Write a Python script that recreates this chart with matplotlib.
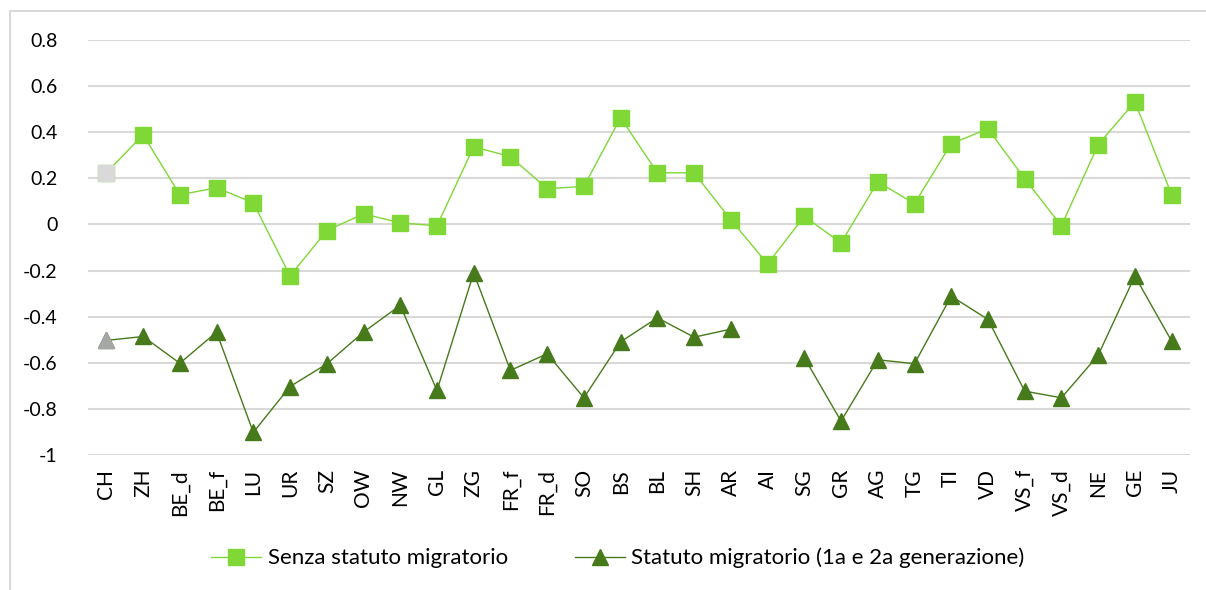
import numpy as np
import matplotlib.pyplot as plt
from matplotlib.lines import Line2D

# cantoni
cantoni = ["CH", "ZH", "BE_d", "BE_f", "LU", "UR", "SZ", "OW", "NW", "GL", "ZG",
           "FR_f", "FR_d", "SO", "BS", "BL", "SH", "AR", "AI", "SG", "GR", "AG",
           "TG", "TI", "VD", "VS_f", "VS_d", "NE", "GE", "JU"]
senza = [0.224, 0.389, 0.129, 0.159, 0.094, -0.223, -0.027, 0.046, 0.007, -0.006, 0.337,
         0.294, 0.155, 0.165, 0.463, 0.224, 0.224, 0.020, -0.171, 0.035, -0.080, 0.185,
         0.090, 0.350, 0.415, 0.198, -0.006, 0.346, 0.532, 0.129]
migr = [-0.503, -0.486, -0.602, -0.467, -0.902, -0.703, -0.605, -0.467, -0.351, -0.720, -0.210,
        -0.633, -0.561, -0.752, -0.509, -0.405, -0.489, -0.454, np.nan, -0.578, -0.853, -0.587,
        -0.604, -0.311, -0.412, -0.723, -0.752, -0.567, -0.224, -0.506]
yticks = [0.8, 0.6, 0.4, 0.2, 0, -0.2, -0.4, -0.6, -0.8, -1]

verde = "#7FD835"
scuro = "#467A1A"

plt.rcParams['font.family'] = ['Lato', 'DejaVu Sans']
fig = plt.figure(figsize=(12.06, 5.9), dpi=100)
ax = fig.add_axes([88/1206, 1-455/590, (1190-88)/1206, 415/590])

x = np.arange(len(cantoni))
ax.plot(x, senza, color=verde, lw=1, marker='s', ms=11, mec=verde, mfc=verde, zorder=3)
ax.plot(x, migr, color=scuro, lw=1, marker='^', ms=12, mec=scuro, mfc=scuro, zorder=3)
# CH in grigio
ax.plot(x[0], senza[0], marker='s', ms=11, color="#D9D9D9", zorder=4)
ax.plot(x[0], migr[0], marker='^', ms=12, color="#A6A6A6", zorder=4)

ax.set_xlim(-0.5, len(cantoni)-0.5)
ax.set_ylim(-1, 0.8)
ax.set_yticks(yticks)
ax.set_yticklabels([("%g" % v) for v in yticks], fontsize=14)
ax.set_xticks(x)
ax.set_xticklabels(cantoni, rotation=90, fontsize=15)
ax.tick_params(length=0)
ax.tick_params(axis='y', pad=22)
ax.tick_params(axis='x', pad=10)
for s in ax.spines.values():
    s.set_visible(False)
ax.grid(axis='y', color="#D9D9D9", lw=1.5)
ax.set_axisbelow(True)

h1 = Line2D([], [], color=verde, lw=1, marker='s', ms=11, mec=verde, mfc=verde)
h2 = Line2D([], [], color=scuro, lw=1, marker='^', ms=12, mec=scuro, mfc=scuro)
fig.legend([h1, h2], ["Senza statuto migratorio", "Statuto migratorio (1a e 2a generazione)"],
           loc='center', bbox_to_anchor=(618/1206, 1-558/590), ncol=2, frameon=False,
           fontsize=16, handlelength=2.25, columnspacing=3.0, handletextpad=0.3)

# cornice
fig.add_artist(Line2D([10/1206, 10/1206], [0, 1-11/590], color="#D9D9D9", lw=1.5))
fig.add_artist(Line2D([10/1206, 1], [1-11/590, 1-11/590], color="#D9D9D9", lw=1.5))

fig.savefig("out.png", dpi=100)
